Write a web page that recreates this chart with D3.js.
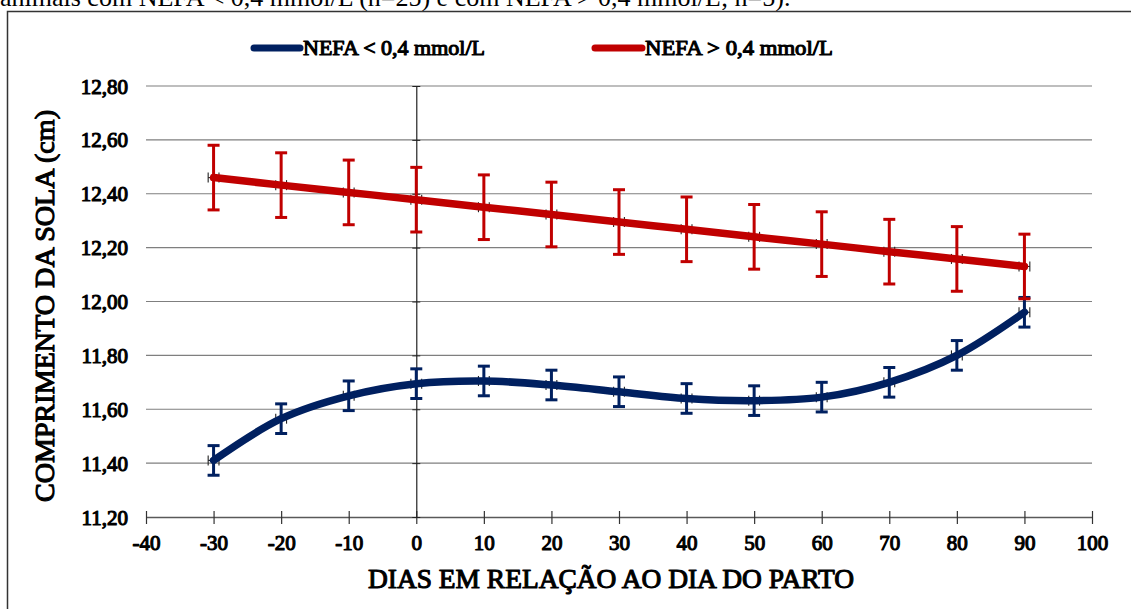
<!DOCTYPE html>
<html>
<head>
<meta charset="utf-8">
<script src="https://cdn.jsdelivr.net/npm/d3@7"></script>
<style>
  html, body { margin: 0; padding: 0; background: #fff; }
  svg { display: block; }
  text { font-family: "Liberation Serif", "Times New Roman", serif; }
  /* heavy serif lettering: outline stroke over the regular face */
  .heavy { font-weight: normal; stroke: #000; stroke-width: 1.1px; stroke-linejoin: round; fill: #000; }
</style>
</head>
<body>
<svg id="chart" width="1131" height="609"></svg>
<script>
// Days relative to calving
const days = [-30, -20, -10, 0, 10, 20, 30, 40, 50, 60, 70, 80, 90];
// Sole length (cm), NEFA < 0,4 mmol/L
const lowNefa = [11.41, 11.565, 11.65, 11.695, 11.705, 11.69, 11.665, 11.64, 11.632, 11.645, 11.70, 11.80, 11.96];
const lowNefaErr = [0.055, 0.055, 0.055, 0.055, 0.055, 0.055, 0.055, 0.055, 0.055, 0.055, 0.055, 0.055, 0.055];
// Sole length (cm), NEFA > 0,4 mmol/L
const highNefa = [12.46, 12.432, 12.405, 12.378, 12.35, 12.323, 12.295, 12.268, 12.24, 12.213, 12.185, 12.158, 12.13];
const highNefaErr = [0.12, 0.12, 0.12, 0.12, 0.12, 0.12, 0.12, 0.12, 0.12, 0.12, 0.12, 0.12, 0.12];
const dayErr = 0.8;

const xTicks = [-40, -30, -20, -10, 0, 10, 20, 30, 40, 50, 60, 70, 80, 90, 100];
const yTicks = [11.2, 11.4, 11.6, 11.8, 12.0, 12.2, 12.4, 12.6, 12.8];
const seriesNames = ["NEFA < 0,4 mmol/L", "NEFA > 0,4 mmol/L"];
const seriesColors = ["#002060", "#C00000"];
const caption = "animais com NEFA < 0,4 mmol/L (n=25) e com NEFA > 0,4 mmol/L; n=5).";

const svg = d3.select("#chart");

// caption line above the frame
svg.append("text")
  .attr("x", 0).attr("y", 6)
  .attr("font-size", 26)
  .attr("fill", "#000")
  .text(caption);

// chart frame
svg.append("path")
  .attr("d", "M7.5,640 L7.5,11.5 L1140,11.5")
  .attr("fill", "none").attr("stroke", "#333").attr("stroke-width", 1.5);

const x = d3.scaleLinear().domain([-40, 100]).range([146, 1092]);
const y = d3.scaleLinear().domain([11.2, 12.8]).range([517, 86]);
const fmt = v => d3.format(".2f")(v).replace(".", ",");

// horizontal gridlines
svg.append("g")
  .selectAll("line")
  .data(yTicks.filter(v => v > 11.2))
  .join("line")
  .attr("x1", x(-40)).attr("x2", x(100))
  .attr("y1", d => y(d)).attr("y2", d => y(d))
  .attr("stroke", "#7f7f7f").attr("stroke-width", 1.2);

// y tick labels
svg.append("g")
  .selectAll("text")
  .data(yTicks)
  .join("text")
  .attr("class", "heavy")
  .attr("x", 128).attr("y", d => y(d) + 7.5)
  .attr("text-anchor", "end")
  .attr("font-size", 21)
  .text(fmt);

// x axis
const xAxis = d3.axisBottom(x)
  .tickValues(xTicks)
  .tickSize(7)
  .tickSizeOuter(0)
  .tickFormat(d3.format("d"));
const gx = svg.append("g").attr("transform", `translate(0,${y(11.2)})`).call(xAxis);
gx.select(".domain").attr("stroke", "#595959").attr("stroke-width", 1.3);
gx.selectAll(".tick line").attr("stroke", "#333").attr("stroke-width", 1.2).attr("y1", -6);
gx.selectAll(".tick text")
  .attr("class", "heavy")
  .attr("y", 33)
  .attr("dy", 0)
  .attr("font-size", 21)
  .attr("font-family", "Liberation Serif, Times New Roman, serif")
  .text(d => d3.format("d")(d).replace("−", "-"));

// vertical axis at day 0
const yAxis = d3.axisLeft(y).tickValues(yTicks).tickSize(4).tickSizeOuter(0).tickFormat("");
const gy = svg.append("g").attr("transform", `translate(${x(0)},0)`).call(yAxis);
gy.select(".domain").attr("stroke", "#222").attr("stroke-width", 1.2);
gy.selectAll(".tick line").attr("stroke", "#222").attr("x2", 4).attr("x1", -4);

// axis titles
svg.append("text")
  .attr("class", "heavy")
  .attr("x", 611).attr("y", 588)
  .attr("text-anchor", "middle")
  .attr("font-size", 28)
  .attr("textLength", 486).attr("lengthAdjust", "spacingAndGlyphs")
  .text("DIAS EM RELAÇÃO AO DIA DO PARTO");
svg.append("text")
  .attr("class", "heavy")
  .attr("transform", "translate(54,306) rotate(-90)")
  .attr("text-anchor", "middle")
  .attr("font-size", 27)
  .attr("textLength", 392).attr("lengthAdjust", "spacingAndGlyphs")
  .text("COMPRIMENTO DA SOLA (cm)");

// series
const series = [
  { name: seriesNames[0], color: seriesColors[0], values: lowNefa, err: lowNefaErr },
  { name: seriesNames[1], color: seriesColors[1], values: highNefa, err: highNefaErr }
];
const line = d3.line()
  .x(d => x(d.day)).y(d => y(d.v))
  .curve(d3.curveCatmullRom.alpha(0.5));

series.forEach(s => {
  const pts = days.map((d, i) => ({ day: d, v: s.values[i], e: s.err[i] }));
  const g = svg.append("g");

  // horizontal error bars (days)
  const hx = g.append("g").attr("stroke", "#222").attr("stroke-width", 1.1);
  pts.forEach(p => {
    hx.append("line").attr("x1", x(p.day - dayErr)).attr("x2", x(p.day + dayErr))
      .attr("y1", y(p.v)).attr("y2", y(p.v));
    [p.day - dayErr, p.day + dayErr].forEach(dd => {
      hx.append("line").attr("x1", x(dd)).attr("x2", x(dd))
        .attr("y1", y(p.v) - 5).attr("y2", y(p.v) + 5);
    });
  });

  // main curve
  g.append("path")
    .datum(pts)
    .attr("d", line)
    .attr("fill", "none")
    .attr("stroke", s.color)
    .attr("stroke-width", 7.5)
    .attr("stroke-linecap", "round");

  // vertical error bars (sole length)
  const ve = g.append("g").attr("stroke", s.color).attr("stroke-width", 3);
  pts.forEach(p => {
    ve.append("line").attr("x1", x(p.day)).attr("x2", x(p.day))
      .attr("y1", y(p.v - p.e)).attr("y2", y(p.v + p.e));
    [p.v - p.e, p.v + p.e].forEach(vv => {
      ve.append("line").attr("x1", x(p.day) - 6).attr("x2", x(p.day) + 6)
        .attr("y1", y(vv)).attr("y2", y(vv));
    });
  });
});

// legend
const legendItems = [
  { x1: 254, x2: 300, tx: 303, w: 182 },
  { x1: 595, x2: 642, tx: 645, w: 188 }
];
series.forEach((s, i) => {
  const li = legendItems[i];
  svg.append("line")
    .attr("x1", li.x1).attr("x2", li.x2).attr("y1", 48).attr("y2", 48)
    .attr("stroke", s.color).attr("stroke-width", 7).attr("stroke-linecap", "round");
  svg.append("text")
    .attr("class", "heavy")
    .attr("x", li.tx).attr("y", 55)
    .attr("font-size", 21.5)
    .attr("textLength", li.w).attr("lengthAdjust", "spacingAndGlyphs")
    .text(s.name);
});
</script>
</body>
</html>
